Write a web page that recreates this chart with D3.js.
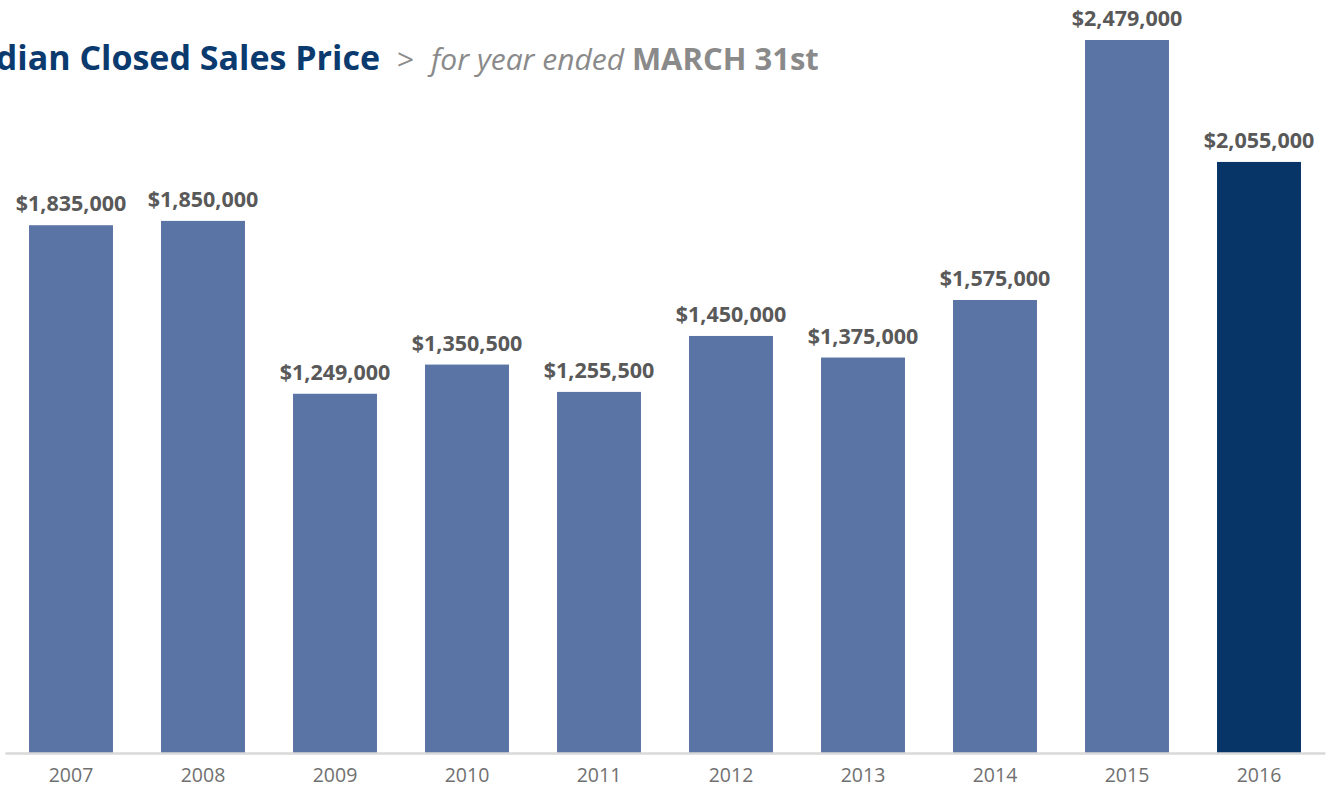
<!DOCTYPE html>
<html>
<head>
<meta charset="utf-8">
<script src="https://cdn.jsdelivr.net/npm/d3@7"></script>
<style>
  body { margin: 0; background: #fff; }
  svg { display: block; }
</style>
</head>
<body>
<svg id="chart" width="1329" height="789"></svg>
<script>
// chart data
const years = ["2007", "2008", "2009", "2010", "2011", "2012", "2013", "2014", "2015", "2016"];
const prices = [1835000, 1850000, 1249000, 1350500, 1255500, 1450000, 1375000, 1575000, 2479000, 2055000];
const highlightYear = "2016";

const svg = d3.select("#chart");
const baseline = 753;

const x = d3.scaleBand()
  .domain(years)
  .range([5, 1325])
  .paddingInner(0.364)
  .paddingOuter(0.182);

const y = d3.scaleLinear()
  .domain([0, 2479000])
  .range([baseline, 40]);

const fmt = (v) => "$" + d3.format(",")(v);

// Title (runs off the left edge, as in the original)
svg.append("text")
  .attr("x", 380)
  .attr("y", 70)
  .attr("text-anchor", "end")
  .attr("font-family", "'Open Sans', sans-serif")
  .attr("font-weight", 700)
  .attr("font-size", 34)
  .attr("fill", "#0a3a6e")
  .text("Median Closed Sales Price");

const sub = svg.append("text")
  .attr("x", 397)
  .attr("y", 70)
  .attr("font-family", "'Open Sans', sans-serif")
  .attr("font-size", 30)
  .attr("fill", "#8a8a8a");
sub.append("tspan").text(">");
sub.append("tspan").attr("x", 431).attr("font-style", "italic").text("for year ended ");
sub.append("tspan").attr("font-weight", 700).attr("font-size", 31).text("MARCH 31st");

// Bars
svg.append("g")
  .selectAll("rect")
  .data(years)
  .join("rect")
  .attr("x", (d) => x(d))
  .attr("width", x.bandwidth())
  .attr("y", (d, i) => y(prices[i]))
  .attr("height", (d, i) => baseline - y(prices[i]))
  .attr("fill", (d) => (d === highlightYear ? "#083567" : "#5a74a5"));

// Value labels
svg.append("g")
  .selectAll("text")
  .data(years)
  .join("text")
  .attr("x", (d) => x(d) + x.bandwidth() / 2)
  .attr("y", (d, i) => y(prices[i]) - 14)
  .attr("text-anchor", "middle")
  .attr("font-family", "'Open Sans', sans-serif")
  .attr("font-weight", 700)
  .attr("font-size", 21.5)
  .attr("fill", "#595959")
  .text((d, i) => fmt(prices[i]));

// Axis
const axis = svg.append("g")
  .attr("transform", `translate(0, ${baseline})`)
  .call(d3.axisBottom(x).tickSize(0).tickPadding(15));
axis.select(".domain").attr("stroke", "#d9d9d9").attr("stroke-width", 2.5);
axis.selectAll("text")
  .attr("font-family", "'Open Sans', sans-serif")
  .attr("font-size", 19.5)
  .attr("fill", "#707070");
</script>
</body>
</html>
